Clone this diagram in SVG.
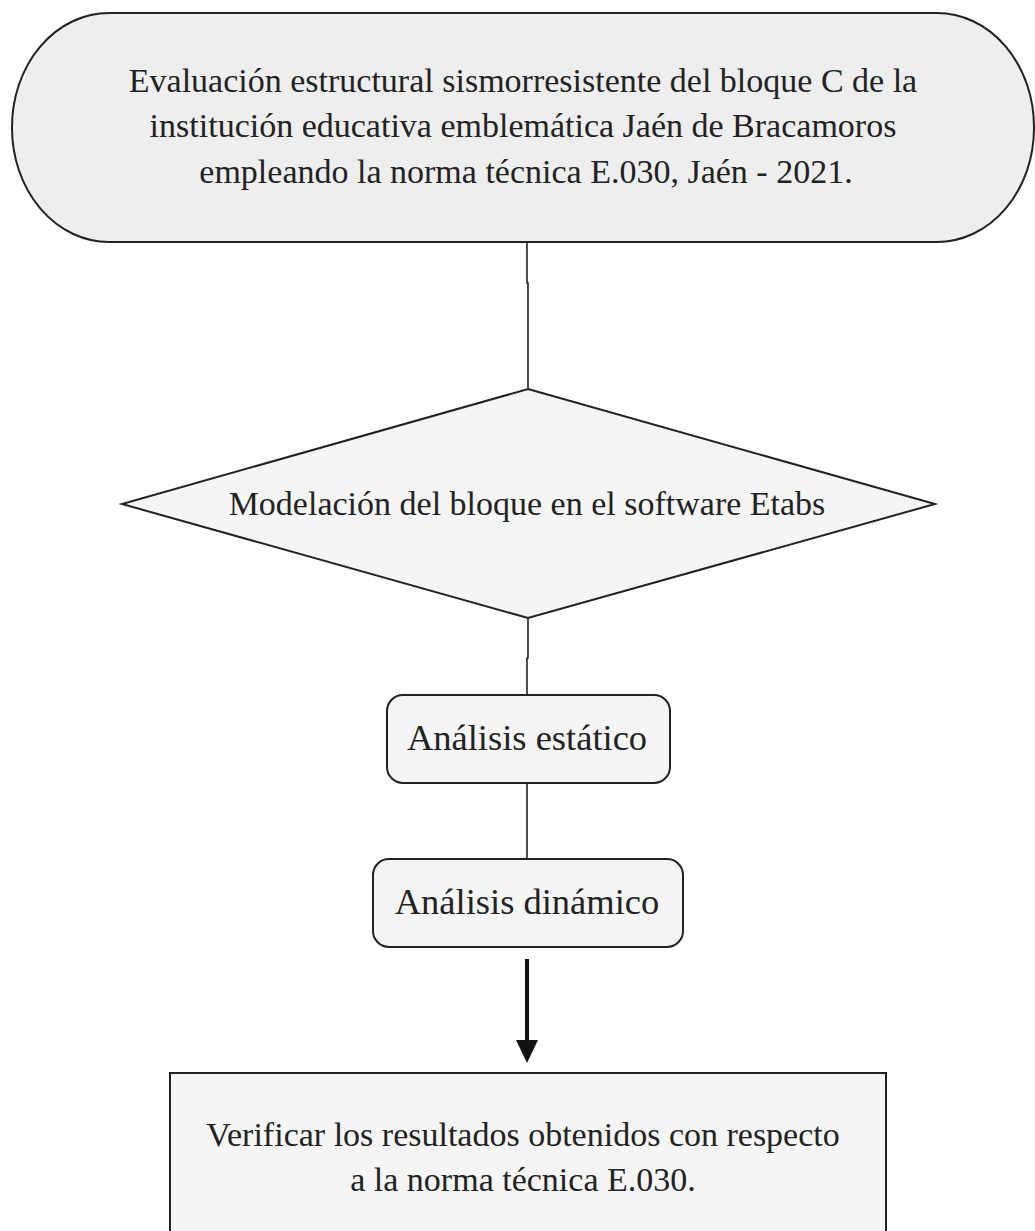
<svg xmlns="http://www.w3.org/2000/svg" width="1035" height="1231" viewBox="0 0 1035 1231">
  <defs>
    <style>
      .shape { stroke: #222222; stroke-width: 2; }
      .lbl { font-family: "Liberation Serif", "Times New Roman", serif; fill: #222222; text-anchor: middle; }
      .conn { stroke: #222222; stroke-width: 1.6; fill: none; }
    </style>
    <marker id="arrow" markerWidth="6" markerHeight="6" refX="5" refY="3" orient="auto" markerUnits="strokeWidth">
      <path d="M0,0 L6,3 L0,6 Z" fill="#111111"/>
    </marker>
  </defs>
  <rect width="1035" height="1231" fill="#ffffff"/>

  <g id="connectors">
    <path class="conn" d="M527 243 V283 H528 V389"/>
    <path class="conn" d="M528 618 V658 H527 V695"/>
    <path class="conn" d="M527 783 V859"/>
    <path d="M527 959 V1044" stroke="#111111" stroke-width="4" fill="none"/>
    <path d="M516 1040 L538 1040 L527 1063 Z" fill="#111111"/>
  </g>

  <g id="node-title">
    <rect class="shape" x="12" y="13" width="1022" height="229" rx="97" ry="114" fill="#eeeeee"/>
    <text class="lbl" font-size="34" x="523" y="92">Evaluación estructural sismorresistente del bloque C de la</text>
    <text class="lbl" font-size="34" x="523" y="137">institución educativa emblemática Jaén de Bracamoros</text>
    <text class="lbl" font-size="34" x="526" y="183">empleando la norma técnica E.030, Jaén - 2021.</text>
  </g>

  <g id="node-modelacion">
    <polygon class="shape" points="528,389 935,504 528,618 122,504" fill="#f5f5f5"/>
    <text class="lbl" font-size="34" x="527" y="515">Modelación del bloque en el software Etabs</text>
  </g>

  <g id="node-estatico">
    <rect class="shape" x="387" y="695" width="283" height="88" rx="16" ry="16" fill="#f5f5f5"/>
    <text class="lbl" font-size="36.5" x="527" y="750">Análisis estático</text>
  </g>

  <g id="node-dinamico">
    <rect class="shape" x="373" y="859" width="310" height="88" rx="16" ry="16" fill="#f5f5f5"/>
    <text class="lbl" font-size="36.5" x="527" y="914">Análisis dinámico</text>
  </g>

  <g id="node-verificar">
    <rect class="shape" x="170" y="1073" width="716" height="170" fill="#f5f5f5"/>
    <text class="lbl" font-size="34" x="523" y="1146">Verificar los resultados obtenidos con respecto</text>
    <text class="lbl" font-size="34" x="523" y="1191">a la norma técnica E.030.</text>
  </g>
</svg>
